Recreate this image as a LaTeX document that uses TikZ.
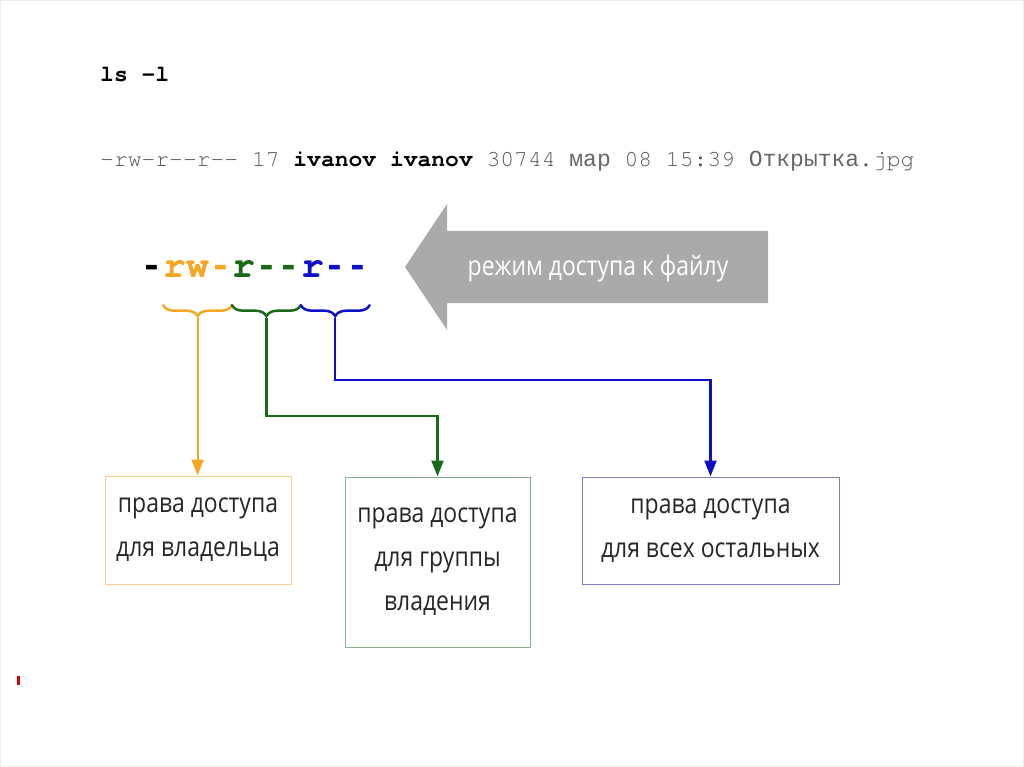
\documentclass[tikz,border=0pt]{standalone}
\usepackage{fontspec}
\setmainfont{Open Sans}[FakeStretch=0.85]
\setmonofont{Liberation Mono}
\newfontfamily\cursorfont{TeX Gyre Cursor}
\usetikzlibrary{arrows.meta, positioning, decorations.pathreplacing}

\definecolor{ownc}{RGB}{245,166,35}
\definecolor{grpc}{RGB}{25,105,25}
\definecolor{othc}{RGB}{15,15,200}
\definecolor{ownline}{RGB}{248,205,150}
\definecolor{grpline}{RGB}{135,175,145}
\definecolor{othline}{RGB}{125,125,190}
\definecolor{modegray}{RGB}{170,170,170}
\definecolor{lsgray}{RGB}{85,85,85}

\newcommand{\hy}{{\ttfamily\bfseries -}}

\begin{document}
\begin{tikzpicture}[
    x=1pt, y=-1pt,
    cmd/.style={font=\fontsize{23}{28}\selectfont\cursorfont, inner sep=0pt, anchor=base west},
    perm/.style={font=\fontsize{38}{40}\selectfont\cursorfont\bfseries, inner sep=0pt, anchor=base west},
    box/.style={draw, align=center, font=\fontsize{27}{44}\selectfont, text=black!85, line width=1pt},
    brc/.style={decorate, decoration={brace, mirror, amplitude=11pt}, line width=2.5pt, line cap=round},
    link/.style={line width=2.2pt, -{Triangle[length=16pt, width=12pt]}}
]
\useasboundingbox (0,0) rectangle (1024,767);
\draw[black!7] (0.5,0.5) rectangle (1023.5,766.5);

% command and its output
\node[cmd] (lscmd) at (100,82) {\bfseries ls -l};
\node[cmd, text=lsgray] (lsline) at (100,167) {-rw-r-{}-r-{}- 17 {\color{black}\bfseries ivanov ivanov} 30744 {\fontsize{23}{28}\ttfamily\color{black!60}мар} 08 15:39 {\fontsize{23}{28}\ttfamily\color{black!60}Открытка}.jpg};

% mode string
\node[perm] (pdash) at (140,277) {\hy};
\node[perm, text=ownc] (pown) at (pdash.base east) {rw\hy};
\node[perm, text=grpc] (pgrp) at (pown.base east) {r\hy\hy};
\node[perm, text=othc] (poth) at (pgrp.base east) {r\hy\hy};

\draw[brc, ownc] ([yshift=-28pt]pown.south west) -- ([yshift=-28pt]pown.south east);
\draw[brc, grpc] ([yshift=-28pt]pgrp.south west) -- ([yshift=-28pt]pgrp.south east);
\draw[brc, othc] ([yshift=-28pt]poth.south west) -- ([yshift=-28pt]poth.south east);
\coordinate (owntip) at ([yshift=-41pt]pown.south);
\coordinate (grptip) at ([yshift=-41pt]pgrp.south);
\coordinate (othtip) at ([yshift=-41pt]poth.south);

% big grey arrow
\fill[modegray] (405,267) -- (447,204) -- (447,231) -- (768,231) -- (768,303) -- (447,303) -- (447,330) -- cycle;
\node[font=\fontsize{27}{30}\selectfont, text=white] (modelabel) at (598,268) {режим доступа к файлу};

% boxes
\node[box, draw=ownline, minimum width=186pt, minimum height=108pt] (ownbox) at (198,530) {права доступа\\для владельца};
\node[box, draw=grpline, minimum width=185pt, minimum height=170pt] (grpbox) at (437.5,562) {права доступа\\для группы\\владения};
\node[box, draw=othline, minimum width=257pt, minimum height=107pt] (othbox) at (710.5,530.5) {права доступа\\для всех остальных};

\draw[link, ownc] (owntip) -- (owntip |- ownbox.north);
\draw[link, grpc] (grptip) -- ++(0,98) -| (grpbox);
\draw[link, othc] (othtip) -- ++(0,62) -| (othbox);

\fill[red!85!black] (17,676) rectangle (19.5,685);
\end{tikzpicture}
\end{document}
